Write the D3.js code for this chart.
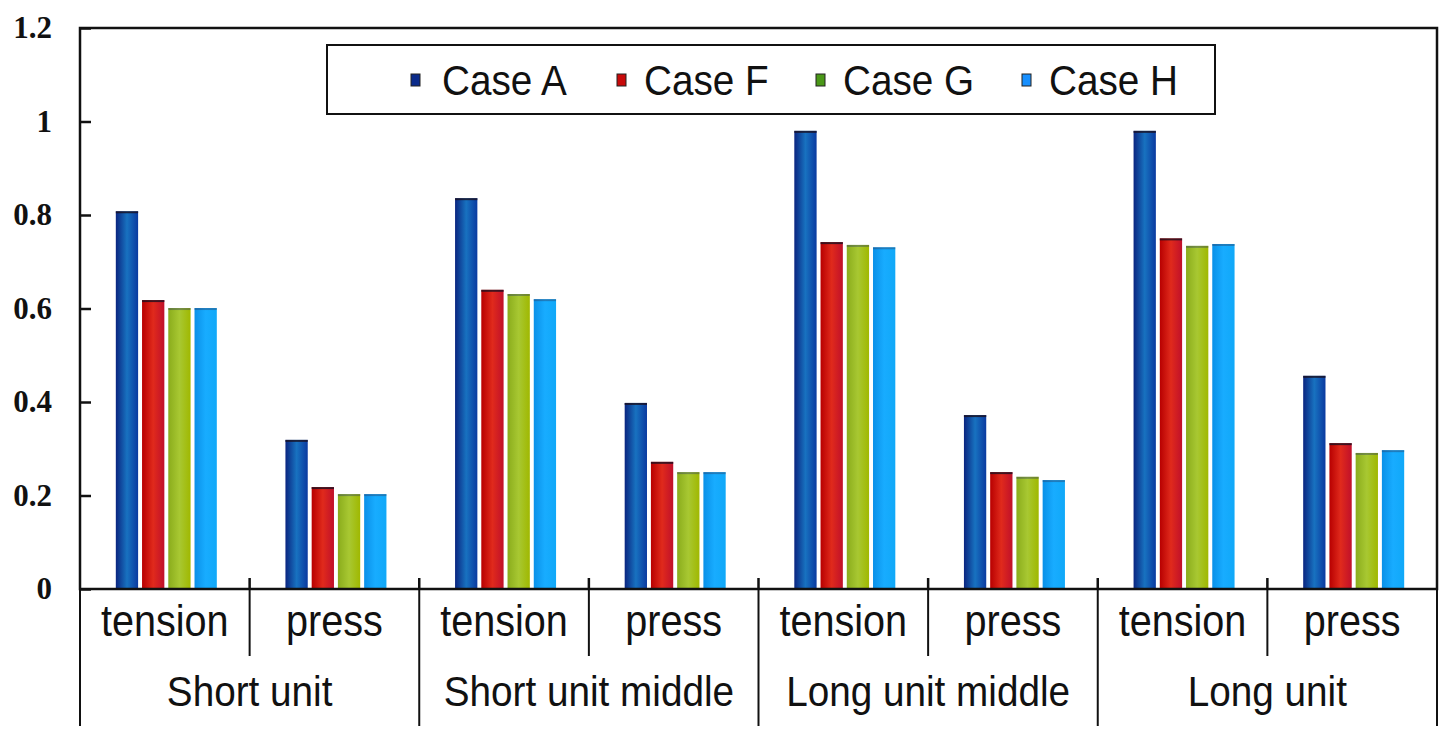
<!DOCTYPE html>
<html><head><meta charset="utf-8">
<script src="https://cdn.jsdelivr.net/npm/d3@7"></script>
<style>body{margin:0;background:#fff}svg{display:block}</style>
</head><body>
<script>
const groups = ["Short unit", "Short unit middle", "Long unit middle", "Long unit"];
const subs = ["tension", "press"];
const cases = ["Case A", "Case F", "Case G", "Case H"];
const caseA = [0.808, 0.319, 0.836, 0.398, 0.980, 0.372, 0.980, 0.456];
const caseF = [0.618, 0.218, 0.640, 0.272, 0.742, 0.250, 0.750, 0.312];
const caseG = [0.601, 0.203, 0.631, 0.250, 0.736, 0.240, 0.734, 0.291];
const caseH = [0.601, 0.203, 0.620, 0.250, 0.731, 0.233, 0.738, 0.297];
const yTicks = [0, 0.2, 0.4, 0.6, 0.8, 1, 1.2];

const series = [caseA, caseF, caseG, caseH];
const W = 1450, H = 747;
const L = 80, R = 1437, T = 28, B = 589;
const svg = d3.select("body").append("svg").attr("width", W).attr("height", H);

const defs = svg.append("defs");
const grads = [
  ["#0a2580", "#1872c0", "#0a3aa0"],
  ["#b80000", "#e02a1c", "#c0102a"],
  ["#8aac1c", "#a8c832", "#a0b800"],
  ["#0a90e8", "#18acff", "#10a8f8"]
];
grads.forEach((g, i) => {
  const lg = defs.append("linearGradient").attr("id", "g" + i).attr("x1", 0).attr("x2", 1).attr("y1", 0).attr("y2", 0);
  lg.append("stop").attr("offset", 0).attr("stop-color", g[0]);
  lg.append("stop").attr("offset", 0.5).attr("stop-color", g[1]);
  lg.append("stop").attr("offset", 1).attr("stop-color", g[2]);
});

const cats = [];
groups.forEach(g => subs.forEach(s => cats.push(g + "|" + s)));
const x = d3.scaleBand().domain(cats).range([L, R]).padding(0);
const xg = d3.scaleBand().domain(groups).range([L, R]).padding(0);
const y = d3.scaleLinear().domain([0, 1.2]).range([B, T]);
const inner = d3.scaleBand().domain(d3.range(4)).range([-49, 52]).paddingInner(0.15);

// bars
series.forEach((vals, si) => {
  svg.append("g").selectAll("rect").data(vals).join("rect")
    .attr("x", (d, i) => x(cats[i]) + x.bandwidth() / 2 + inner(si))
    .attr("width", inner.bandwidth())
    .attr("y", d => y(d))
    .attr("height", d => B - y(d))
    .attr("fill", "url(#g" + si + ")");
  svg.append("g").selectAll("line").data(vals).join("line")
    .attr("x1", (d, i) => x(cats[i]) + x.bandwidth() / 2 + inner(si))
    .attr("x2", (d, i) => x(cats[i]) + x.bandwidth() / 2 + inner(si) + inner.bandwidth())
    .attr("y1", d => y(d) + 1).attr("y2", d => y(d) + 1)
    .attr("stroke", si < 2 ? "#1a1020" : "#2a3a60").attr("stroke-width", 2).attr("opacity", si < 2 ? 0.8 : 0.4);
});

// frame
svg.append("rect").attr("x", L).attr("y", T).attr("width", R - L).attr("height", B - T)
  .attr("fill", "none").attr("stroke", "#111").attr("stroke-width", 2.5);

// y axis
const yAxis = d3.axisLeft(y).tickValues(yTicks).tickSize(-11).tickPadding(28)
  .tickFormat(d => d === 0 ? "0" : d3.format("~g")(d));
const ya = svg.append("g").attr("transform", `translate(${L},0)`).call(yAxis);
ya.select(".domain").remove();
ya.selectAll(".tick line").attr("stroke", "#111").attr("stroke-width", 2.5);
ya.selectAll(".tick text").attr("font-family", "Liberation Serif, serif").attr("font-weight", "bold")
  .attr("font-size", 31).attr("fill", "#111").attr("dy", "0.32em");

// x ticks (upward) at boundaries
const bounds = cats.slice(1).map(c => x(c));
svg.append("g").selectAll("line").data(bounds).join("line")
  .attr("x1", d => d).attr("x2", d => d).attr("y1", B).attr("y2", B - 11)
  .attr("stroke", "#111").attr("stroke-width", 2.5);

// sub separators below axis
const subBounds = groups.map(g => x(g + "|press"));
svg.append("g").selectAll("line").data(subBounds).join("line")
  .attr("x1", d => d).attr("x2", d => d).attr("y1", B).attr("y2", 656)
  .attr("stroke", "#111").attr("stroke-width", 2);
const grpBounds = groups.map(g => xg(g)).concat([R]);
svg.append("g").selectAll("line").data(grpBounds).join("line")
  .attr("x1", d => d).attr("x2", d => d).attr("y1", B).attr("y2", 726)
  .attr("stroke", "#111").attr("stroke-width", 2);

// category labels (narrow, tall look)
svg.append("g").selectAll("text").data(cats).join("text")
  .attr("transform", d => `translate(${x(d) + x.bandwidth() / 2},636) scale(0.9,1)`)
  .attr("text-anchor", "middle").attr("font-family", "Liberation Sans, Arial, sans-serif")
  .attr("font-size", 44).attr("fill", "#111")
  .text(d => d.split("|")[1]);
svg.append("g").selectAll("text").data(groups).join("text")
  .attr("transform", d => `translate(${xg(d) + xg.bandwidth() / 2},706) scale(0.9,1)`)
  .attr("text-anchor", "middle").attr("font-family", "Liberation Sans, Arial, sans-serif")
  .attr("font-size", 43).attr("fill", "#111")
  .text(d => d);

// legend
svg.append("rect").attr("x", 327).attr("y", 45).attr("width", 888).attr("height", 69)
  .attr("fill", "#fff").attr("stroke", "#111").attr("stroke-width", 2);
const legX = [411, 617, 816, 1022];
const legCol = ["#0a2a8a", "#c80a0a", "#4a9818", "#1890ff"];
const lg = svg.append("g").selectAll("g").data(cases).join("g")
  .attr("transform", (d, i) => `translate(${legX[i]},80)`);
lg.append("rect").attr("x", 0).attr("y", -6).attr("width", 9).attr("height", 12)
  .attr("fill", (d, i) => legCol[i]).attr("stroke", "#222").attr("stroke-width", 1);
lg.append("text").attr("transform", (d, i) => `translate(${i === 0 ? 31 : 27},0) scale(0.9,1)`)
  .attr("dy", "0.36em")
  .attr("font-family", "Liberation Sans, Arial, sans-serif").attr("font-size", 43).attr("fill", "#111")
  .text(d => d);
</script>
</body></html>
